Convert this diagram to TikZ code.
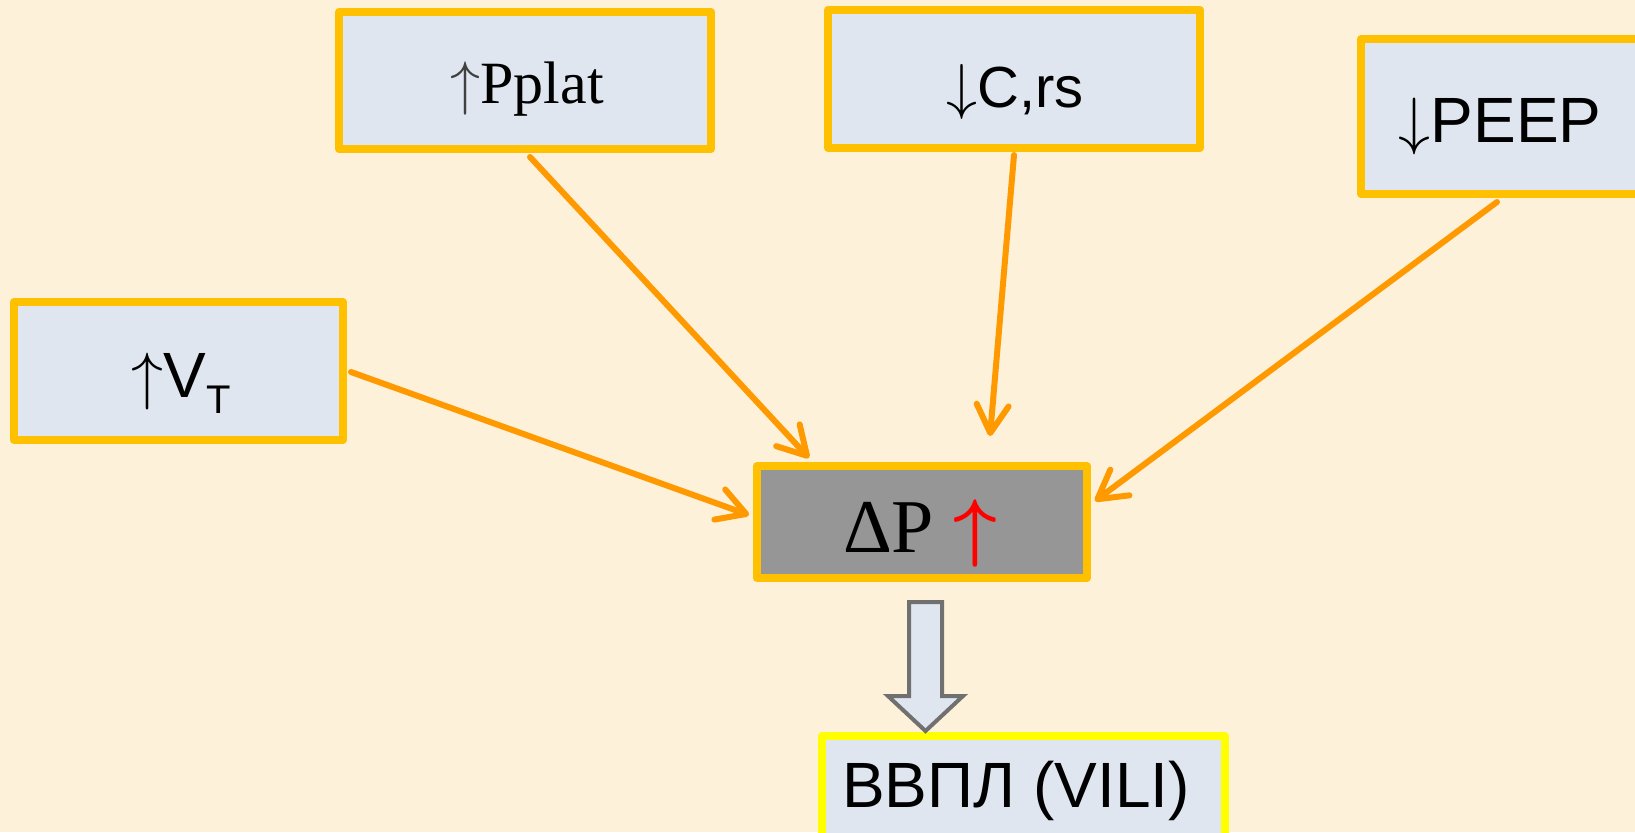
\documentclass[tikz,border=0pt]{standalone}
\usepackage{fix-cm}
\usepackage{fontspec}
\setmainfont{Liberation Serif}
\setsansfont{Liberation Sans}
\usetikzlibrary{arrows.meta,calc}
\definecolor{paper}{HTML}{FDF1D9}
\definecolor{boxfill}{HTML}{DFE6EF}
\definecolor{boxline}{HTML}{FFC000}
\definecolor{vililine}{HTML}{FFFF00}
\definecolor{conn}{HTML}{FF9900}
\definecolor{hubfill}{HTML}{969696}
\definecolor{outlinegray}{HTML}{707070}
\definecolor{arrowgray}{HTML}{404040}
\begin{document}
\begin{tikzpicture}[x=0.5pt,y=-0.5pt,
  box/.style={draw=boxline, fill=boxfill, line width=4pt, rectangle,
    inner sep=0pt, line join=round},
  link/.style={draw=conn, line width=3pt, line cap=round,
    -{Straight Barb[length=14pt,width=16pt,line cap=round,line join=round]}},
  serif/.style={font=\rmfamily\fontsize{30}{30}\selectfont, anchor=base, inner sep=0pt},
  sans/.style={font=\sffamily\fontsize{32}{32}\selectfont, anchor=base, inner sep=0pt}]

% page and background
\useasboundingbox (0,0) rectangle (1635,832);
\clip (0,0) rectangle (1635,832);
\fill[paper] (0,0) rectangle (1635,832);

% boxes
\node[box, minimum width=186pt, minimum height=68.5pt] (pplat) at (525,80.5) {};
\node[box, minimum width=186pt, minimum height=69pt] (crs) at (1014,79) {};
\node[box, minimum width=140pt, minimum height=77.5pt] (peep) at (1501,116.5) {};
\node[box, minimum width=164.5pt, minimum height=69pt] (vt) at (178.5,371) {};
\node[box, fill=hubfill, minimum width=165pt, minimum height=56pt] (dp) at (922,522) {};
\node[box, draw=vililine, minimum width=201.5pt, minimum height=55pt] (vili) at (1023.5,791) {};

% box texts
\node[serif] (pplat-t) at (527,103) {\textcolor{arrowgray}{$\uparrow$}Pplat};
\node[sans, font=\sffamily\fontsize{29}{29}\selectfont] (crs-t) at (1015,107) {{\fontsize{31}{31}\selectfont$\downarrow$}C,rs};
\node[sans] (peep-t) at (1500,142) {$\downarrow$PEEP};
\node[sans] (vt-t) at (181,397) {$\uparrow$V\raisebox{-8pt}{\fontsize{20}{20}\selectfont T}};
\node[serif, font=\rmfamily\fontsize{38}{38}\selectfont] (dp-t) at (920,552) {ΔP \textcolor{red}{\boldmath$\uparrow$}};
\node[sans] (vili-t) at (1016,807) {ВВПЛ (VILI)};

% connectors into the pressure box
\draw[link] ($(pplat.south)+(5,4)$) -- ($(dp.north west)+(56,-4)$);
\draw[link] ($(crs.south)+(0,3)$) -- ($(dp.north)+(68,-26)$);
\draw[link] ($(peep.south)+(-4,4)$) -- ($(dp.north east)+(4,39)$);
\draw[link] ($(vt.east)+(4,1)$) -- ($(dp.north west)+(-4,53)$);

% hollow block arrow down to the injury box
\coordinate (blk) at ($(dp.south)+(3.5,20)$);
\draw[outlinegray, fill=boxfill, line width=2pt, line join=miter]
  ($(blk)+(-16.5,0)$) -- ($(blk)+(16.5,0)$) -- ($(blk)+(16.5,94)$)
  -- ($(blk)+(37.5,94)$) -- ($(blk)+(0,129)$) -- ($(blk)+(-37.5,94)$)
  -- ($(blk)+(-16.5,94)$) -- cycle;
\end{tikzpicture}
\end{document}
